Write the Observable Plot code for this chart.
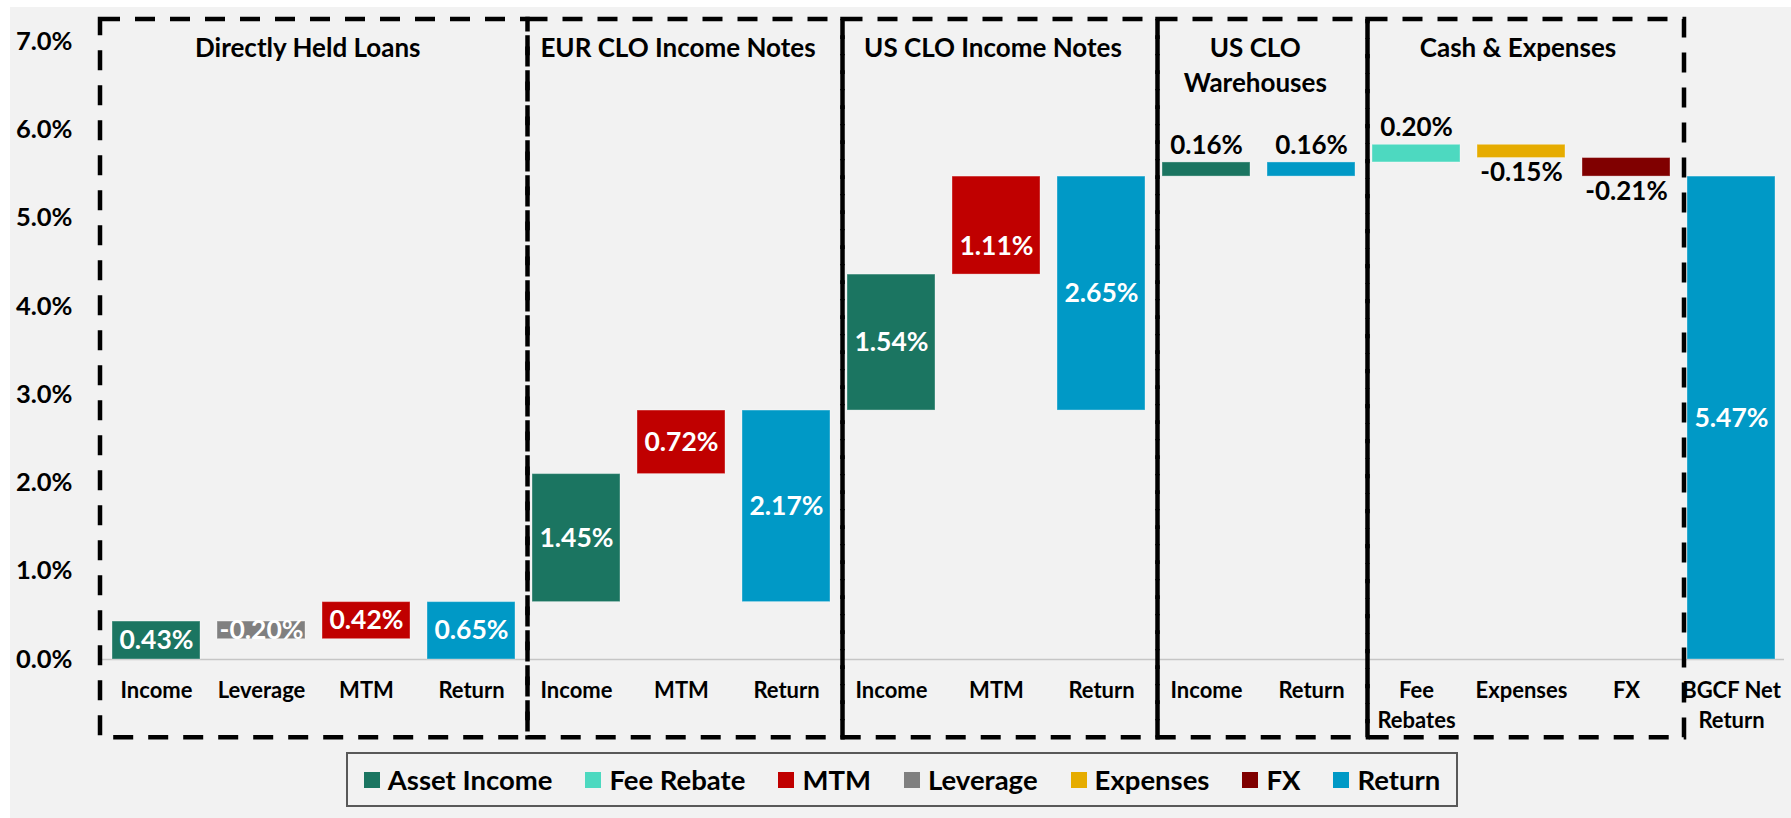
<!DOCTYPE html>
<html>
<head>
<meta charset="utf-8">
<script src="https://cdn.jsdelivr.net/npm/d3@7"></script>
<script src="https://cdn.jsdelivr.net/npm/@observablehq/plot@0.6"></script>
<style>
  html, body { margin: 0; padding: 0; background: #ffffff; }
  #bg { position: absolute; left: 10px; top: 7px; width: 1781px; height: 811px; background: #f2f2f2; }
  #chart { position: absolute; left: 0; top: 0; }
  #legend { position: absolute; left: 346px; top: 752px; width: 1112px; height: 55px; box-sizing: border-box;
            border: 2px solid #595959; display: flex; align-items: center; justify-content: center; gap: 33px;
            font-family: Lato, "Open Sans", sans-serif; font-weight: 700; font-size: 27.5px; color: #000; }
  .item { display: flex; align-items: center; gap: 8px; }
  .sw { width: 16px; height: 16px; display: inline-block; }
</style>
</head>
<body>
<div id="bg"></div>
<div id="chart"></div>
<div id="legend"></div>
<script>
// ---- data ----
const categories = ["dhl-income","dhl-leverage","dhl-mtm","dhl-return",
                    "eur-income","eur-mtm","eur-return",
                    "us-income","us-mtm","us-return",
                    "wh-income","wh-return",
                    "fee-rebates","expenses","fx",
                    "bgcf"];
const tickLabels = ["Income","Leverage","MTM","Return",
                    "Income","MTM","Return",
                    "Income","MTM","Return",
                    "Income","Return",
                    "Fee\nRebates","Expenses","FX",
                    "BGCF Net\nReturn"];
const seriesOf = ["Asset Income","Leverage","MTM","Return",
                  "Asset Income","MTM","Return",
                  "Asset Income","MTM","Return",
                  "Asset Income","Return",
                  "Fee Rebate","Expenses","FX",
                  "Return"];
const values = [0.43, -0.20, 0.42, 0.65,
                1.45, 0.72, 2.17,
                1.54, 1.11, 2.65,
                0.16, 0.16,
                0.20, -0.15, -0.21,
                5.47];
const bases  = [0, 0.43, 0.23, 0,
                0.65, 2.10, 0.65,
                2.82, 4.36, 2.82,
                5.47, 5.47,
                5.63, 5.83, 5.68,
                0];
const groupNames = ["Directly Held Loans","EUR CLO Income Notes","US CLO Income Notes","US CLO\nWarehouses","Cash & Expenses"];
const groupFirst = ["dhl-income","eur-income","us-income","wh-income","fee-rebates"];
const groupLast  = ["dhl-return","eur-return","us-return","wh-return","fx"];
const legendSeries = ["Asset Income","Fee Rebate","MTM","Leverage","Expenses","FX","Return"];
const yTicks = [0, 1, 2, 3, 4, 5, 6, 7];

// ---- styling ----
const seriesColors = ["#1b7561","#4dd9c0","#c00000","#808080","#e6ac00","#800000","#0099c6"];
const FONT = "Lato, 'Open Sans', sans-serif";
const xRange = [99.25, 1787.25];
const step = (xRange[1] - xRange[0]) / categories.length;
const outsideGroups = new Set(["wh-income","wh-return","fee-rebates","expenses","fx"]);

const rows = categories.map((c, i) => ({
  cat: c, label: tickLabels[i], series: seriesOf[i], value: values[i],
  y1: bases[i], y2: bases[i] + values[i]
}));
const fmt = v => v.toFixed(2) + "%";
const inside = rows.filter(d => !outsideGroups.has(d.cat) && d.cat !== "us-mtm");
const insideLow = rows.filter(d => d.cat === "us-mtm");
const above = rows.filter(d => outsideGroups.has(d.cat) && d.value > 0);
const below = rows.filter(d => outsideGroups.has(d.cat) && d.value < 0);

const titleMarks = groupNames.map((name, g) => {
  const i0 = categories.indexOf(groupFirst[g]);
  const i1 = categories.indexOf(groupLast[g]);
  return Plot.text([name], {
    x: [groupFirst[g]], text: d => d, frameAnchor: "top", lineAnchor: "top",
    dx: (i1 - i0) * step / 2 - (g === 0 ? 7 : 4), dy: 31, fontSize: 26, fontWeight: 700, lineHeight: 1.37,
    fill: "#000", fontFamily: FONT
  });
});

const plot = Plot.plot({
  width: 1791,
  height: 745,
  marginTop: 0, marginLeft: 98, marginRight: 7, marginBottom: 64,
  style: { background: "transparent", overflow: "visible", fontFamily: FONT, color: "#000" },
  x: { domain: categories, range: xRange, paddingInner: 0.166, paddingOuter: 0.083, axis: null },
  y: { domain: [0, 7], range: [659, 41] },
  color: { domain: legendSeries, range: seriesColors },
  marks: [
    Plot.ruleY([0], { stroke: "#c6c6c6", strokeWidth: 1.5 }),
    Plot.barY(rows, { x: "cat", y1: "y1", y2: "y2", fill: "series", stroke: "#ffffff", strokeOpacity: 0.35, strokeWidth: 1 }),
    Plot.text(inside, { x: "cat", y: d => (d.y1 + d.y2) / 2, text: d => fmt(d.value), fill: "#ffffff",
                        fontSize: 26.5, fontWeight: 700, fontFamily: FONT }),
    Plot.text(insideLow, { x: "cat", y: d => (d.y1 + d.y2) / 2, dy: 21, text: d => fmt(d.value), fill: "#ffffff",
                        fontSize: 26.5, fontWeight: 700, fontFamily: FONT }),
    Plot.text(above, { x: "cat", y: "y2", dy: -17, text: d => fmt(d.value), fill: "#000",
                        fontSize: 26, fontWeight: 700, fontFamily: FONT }),
    Plot.text(below, { x: "cat", y: "y2", dy: 15, text: d => fmt(d.value), fill: "#000",
                        fontSize: 26, fontWeight: 700, fontFamily: FONT }),
    Plot.axisY({ ticks: yTicks, tickSize: 0, tickPadding: 26, tickFormat: d => d.toFixed(1) + "%",
                 fontSize: 25.5, fontWeight: 700, fill: "#000", fontFamily: FONT }),
    Plot.text(rows, { x: "cat", text: "label", frameAnchor: "bottom", lineAnchor: "top", dy: -4.5,
                      fontSize: 22, fontWeight: 700, lineHeight: 1.364, fill: "#000", fontFamily: FONT }),
    ...titleMarks
  ]
});

// dashed group boxes, positioned from the plot's own scales
const xs = plot.scale("x");
const ys = plot.scale("y");
const start = c => xs.apply(c);
const bounds = [start(categories[0]) - 12].concat(
  groupFirst.slice(1).map(c => start(c) - 4.5),
  [start("bgcf") - 3]
);
const topY = ys.apply(7.25), botY = ys.apply(-0.885);
const svg = d3.select(plot);
const gBox = svg.append("g").attr("fill", "none").attr("stroke", "#000")
  .attr("stroke-width", 4.5).attr("stroke-dasharray", "20 15");
for (let i = 0; i < groupNames.length; i++) {
  gBox.append("rect")
    .attr("x", bounds[i]).attr("y", topY)
    .attr("width", bounds[i + 1] - bounds[i]).attr("height", botY - topY);
}
document.getElementById("chart").appendChild(plot);

// legend
const legend = document.getElementById("legend");
legendSeries.forEach((s, i) => {
  const item = document.createElement("div");
  item.className = "item";
  const sw = document.createElement("span");
  sw.className = "sw";
  sw.style.background = seriesColors[i];
  const t = document.createElement("span");
  t.textContent = s;
  item.appendChild(sw); item.appendChild(t);
  legend.appendChild(item);
});
</script>
</body>
</html>
